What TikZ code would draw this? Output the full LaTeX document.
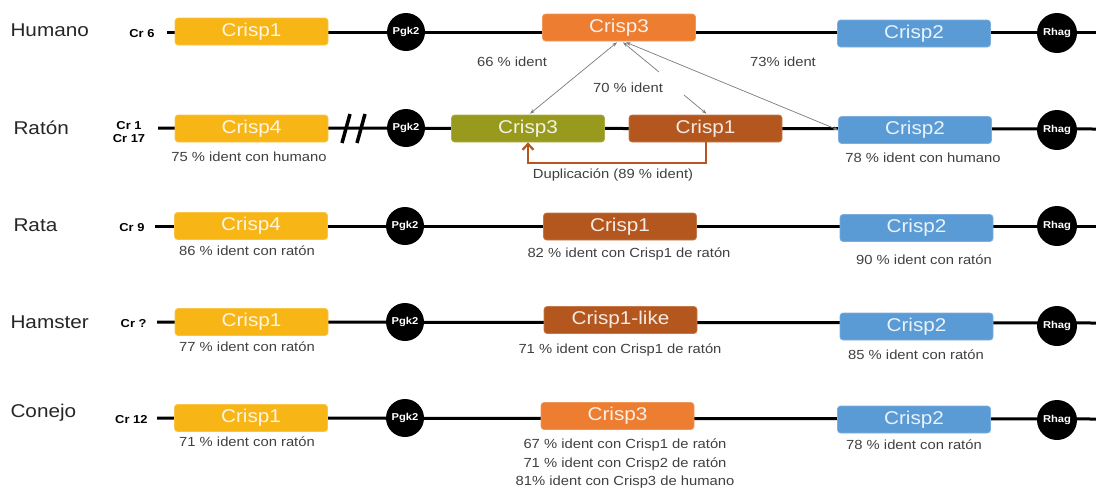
\documentclass[tikz,border=0pt]{standalone}
\usepackage{fontspec}
\setmainfont[FakeStretch=1.12]{Liberation Sans}
\usetikzlibrary{arrows.meta,calc}
\definecolor{cyellow}{HTML}{F8B516}
\definecolor{corange}{HTML}{ED7D31}
\definecolor{colive}{HTML}{989A1E}
\definecolor{cbrown}{HTML}{B4571F}
\definecolor{cblue}{HTML}{5B9BD5}
\definecolor{labgray}{HTML}{404040}
\definecolor{arrgray}{HTML}{7A7A7A}
\tikzset{
  gene/.style={rectangle, rounded corners=3pt, minimum width=153pt, minimum height=27pt,
    inner sep=0pt, text=white!88!#1, draw=#1!80!white, line width=0.6pt, fill=#1,
    font=\fontsize{18.5}{19}\selectfont},
  marker/.style={circle, fill=black, inner sep=0pt, minimum size=#1, text=white,
    font=\bfseries\fontsize{10}{10}\selectfont},
  chrom/.style={line width=3pt, black},
  species/.style={anchor=west, text=black!85, font=\fontsize{18.5}{19}\selectfont},
  crlab/.style={anchor=east, font=\bfseries\fontsize{11.5}{13}\selectfont, align=center},
  ident/.style={text=labgray, font=\fontsize{13.2}{18}\selectfont, align=center, inner sep=1pt},
  homol/.style={draw=arrgray, line width=0.7pt, {Stealth[length=5pt,width=3.5pt]}-{Stealth[length=5pt,width=3.5pt]}},
  homolhalf/.style={draw=arrgray, line width=0.7pt},
  dup/.style={draw=cbrown, line width=2pt},
}
\begin{document}
\begin{tikzpicture}[x=1pt,y=-1pt]
\useasboundingbox (0,0) rectangle (1096,488);
% ---------- chromosome lines ----------
\coordinate (hL) at (167,32);  \coordinate (hR) at (1096,32);
\coordinate (mL) at (158,128); \coordinate (mR) at (1096,129);
\coordinate (tL) at (155,226); \coordinate (tR) at (1096,226);
\coordinate (sL) at (157,322); \coordinate (sR) at (1096,323);
\coordinate (cL) at (157,418); \coordinate (cR) at (1096,419);
\draw[chrom] (hL) -- (hR);
\draw[chrom] (mL) -- (mR);
\draw[chrom] (tL) -- (tR);
\draw[chrom] (sL) -- (sR);
\draw[chrom] (cL) -- (cR);
% ---------- species labels ----------
\node[species] (spH) at (7,30) {Humano};
\node[species] (spM) at (10,128) {Ratón};
\node[species] (spT) at (10,225) {Rata};
\node[species] (spS) at (7,322) {Hamster};
\node[species] (spC) at (7,413) {Conejo};
\node[crlab] (crH) at (158,34) {Cr 6};
\node[crlab, anchor=center] (crM) at (129,132) {Cr 1\\Cr 17};
\node[crlab] (crT) at (148,228) {Cr 9};
\node[crlab] (crS) at (150,324) {Cr ?};
\node[crlab] (crC) at (151,420) {Cr 12};
% ---------- Humano ----------
\node[gene=cyellow] (h1) at (251.5,31.5) {Crisp1};
\node[marker=38pt] (hP) at (406,32) {Pgk2};
\node[gene=corange] (h3) at (619,27.5) {Crisp3};
\node[gene=cblue] (h2) at (914,33.5) {Crisp2};
\node[marker=40pt] (hR1) at (1057,33) {Rhag};
% ---------- Raton ----------
\node[gene=cyellow] (m4) at (251.5,128.5) {Crisp4};
\draw[line width=3.5pt] (342,143) -- (350,114) (357,143) -- (365,114);
\node[marker=38pt] (mP) at (406,128) {Pgk2};
\node[gene=colive] (m3) at (528,128.5) {Crisp3};
\node[gene=cbrown] (m1) at (705.5,128.5) {Crisp1};
\node[gene=cblue] (m2) at (915,130) {Crisp2};
\node[marker=40pt] (mR1) at (1057,130) {Rhag};
% ---------- Rata ----------
\node[gene=cyellow] (t4) at (251,226) {Crisp4};
\node[marker=38pt] (tP) at (405,226) {Pgk2};
\node[gene=cbrown] (t1) at (620,226.5) {Crisp1};
\node[gene=cblue] (t2) at (916.5,228) {Crisp2};
\node[marker=40pt] (tR1) at (1057,226) {Rhag};
% ---------- Hamster ----------
\node[gene=cyellow] (s1) at (251.5,322) {Crisp1};
\node[marker=38pt] (sP) at (405,322) {Pgk2};
\node[gene=cbrown] (sl) at (620.5,320) {Crisp1-like};
\node[gene=cblue] (s2) at (916.5,326.5) {Crisp2};
\node[marker=40pt] (sR1) at (1057,326) {Rhag};
% ---------- Conejo ----------
\node[gene=cyellow] (c1) at (251,418) {Crisp1};
\node[marker=38pt] (cP) at (405,418) {Pgk2};
\node[gene=corange] (c3) at (617.5,416) {Crisp3};
\node[gene=cblue] (c2) at (914,419.5) {Crisp2};
\node[marker=40pt] (cR1) at (1057,420) {Rhag};
% ---------- identity labels ----------
\node[ident] (i66) at (512,62) {66 \% ident};
\node[ident] (i73) at (783,62) {73\% ident};
\node[ident] (i70) at (628,88) {70 \% ident};
\node[ident] (im4) at (249,157) {75 \% ident con humano};
\node[ident] (im2) at (923,158) {78 \% ident con humano};
\node[ident] (idup) at (613,175) {Duplicación (89 \% ident)};
\node[ident] (it4) at (247,251) {86 \% ident con ratón};
\node[ident] (it1) at (629,254) {82 \% ident con Crisp1 de ratón};
\node[ident] (it2) at (924,260) {90 \% ident con ratón};
\node[ident] (is1) at (247,347) {77 \% ident con ratón};
\node[ident] (isl) at (620,350) {71 \% ident con Crisp1 de ratón};
\node[ident] (is2) at (916,355) {85 \% ident con ratón};
\node[ident] (ic1) at (247,442) {71 \% ident con ratón};
\node[ident, font=\fontsize{13.2}{18.5}\selectfont] (ic3) at (625,464) {67 \% ident con Crisp1 de ratón\\71 \% ident con Crisp2 de ratón\\81\% ident con Crisp3 de humano};
\node[ident] (ic2) at (914,445) {78 \% ident con ratón};
% ---------- homology arrows ----------
\draw[homol] ($(h3.south)+(-2,1)$) -- ($(m3.north)+(2,-1)$);
\coordinate (g1) at (659,72);
\coordinate (g2) at (684,95);
\draw[homolhalf, {Stealth[length=5pt,width=3.5pt]}-] ($(h3.south)+(4,1)$) -- (g1);
\draw[homolhalf, -{Stealth[length=5pt,width=3.5pt]}] (g2) -- ($(m1.north)+(1,-1)$);
\draw[homol] ($(h3.south)+(7,1)$) -- (m2.west);
% ---------- duplication ----------
\draw[dup, -{Straight Barb[length=6pt,width=11pt,line width=2.2pt]}] (m1.south) -- ++(0,21) -| (m3.south);
\end{tikzpicture}
\end{document}
